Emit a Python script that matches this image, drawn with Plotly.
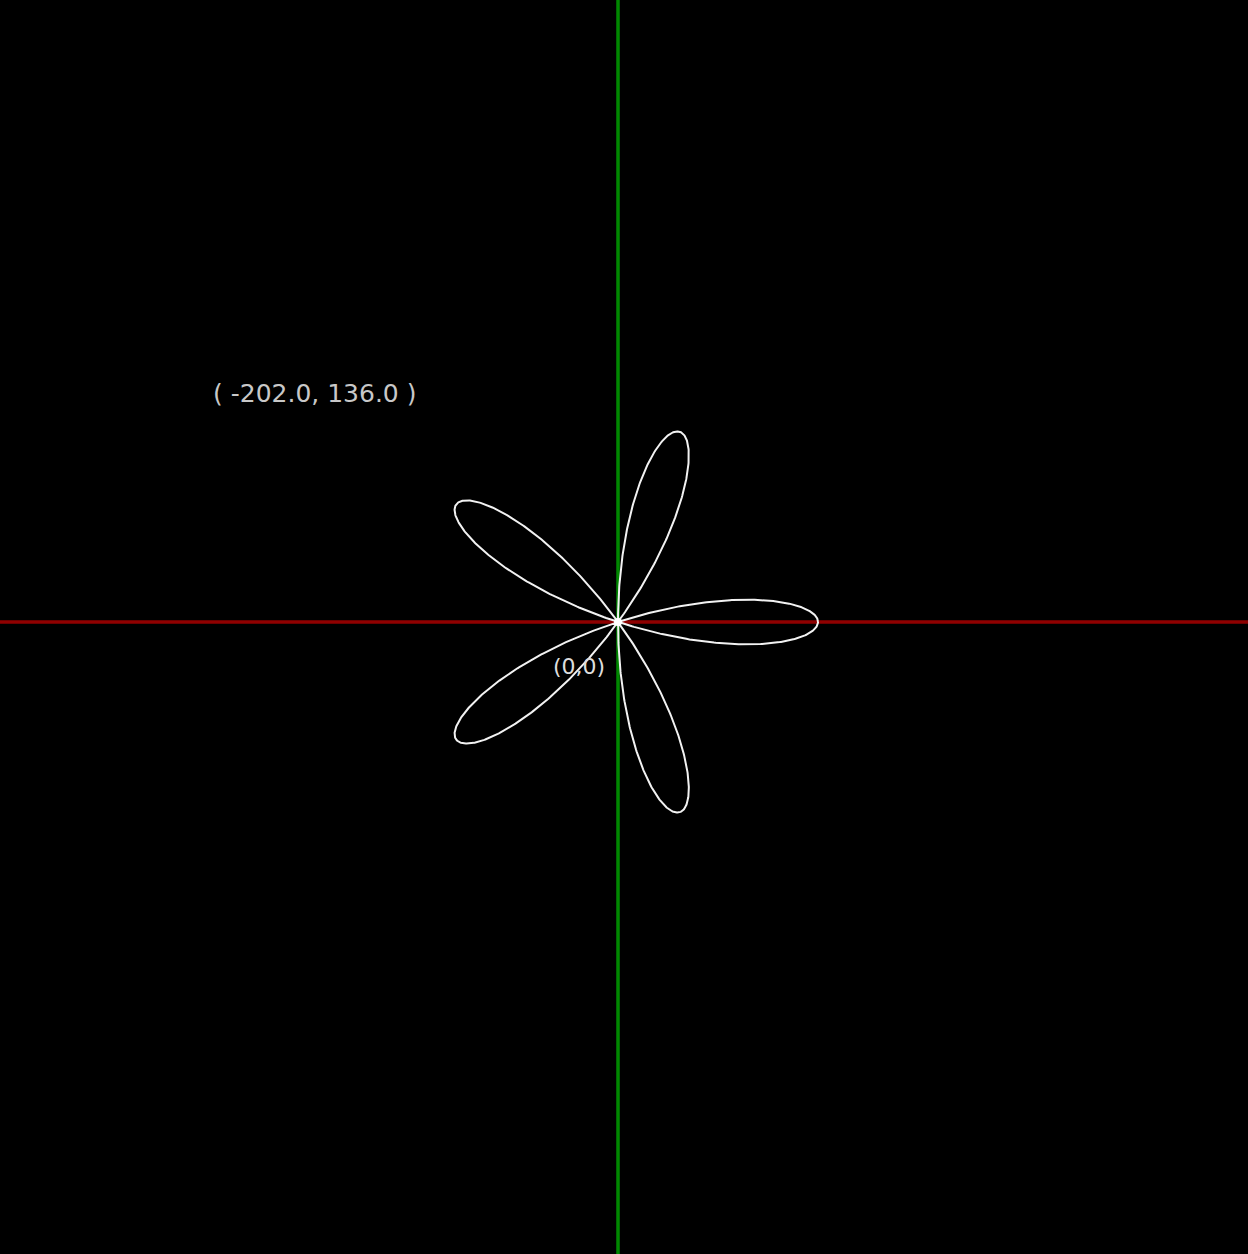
import numpy as np
import plotly.graph_objects as go

# Rose curve parameters: r = A*cos(k*theta)
amplitude = 200.0
petals = 5
cursor_label = "( -202.0, 136.0 )"
cursor_pos = [-304, 229]
origin_label = "(0,0)"
origin_label_pos = [-39, -44]

W, H = 1248, 1254
x_range = [-618, W - 618]
y_range = [622 - H, 622]

theta = np.linspace(0, np.pi, 1501)
r = amplitude * np.cos(petals * theta)
xs = r * np.cos(theta)
ys = r * np.sin(theta)

fig = go.Figure()
# axes lines
fig.add_trace(go.Scatter(x=x_range, y=[0, 0], mode="lines",
                         line=dict(color="#8f0000", width=3.5), hoverinfo="skip"))
fig.add_trace(go.Scatter(x=[0, 0], y=y_range, mode="lines",
                         line=dict(color="#008800", width=3.5), hoverinfo="skip"))
# rose curve
fig.add_trace(go.Scatter(x=xs, y=ys, mode="lines",
                         line=dict(color="#f2f2f2", width=2), hoverinfo="skip"))
# origin dot
fig.add_trace(go.Scatter(x=[0], y=[0], mode="markers",
                         marker=dict(color="white", size=8), hoverinfo="skip"))

fig.add_annotation(x=cursor_pos[0], y=cursor_pos[1], text=cursor_label, showarrow=False,
                   font=dict(family="DejaVu Sans", size=25, color="#c8c8c8"))
fig.add_annotation(x=origin_label_pos[0], y=origin_label_pos[1], text=origin_label, showarrow=False,
                   font=dict(family="DejaVu Sans", size=22, color="#dddddd"))

fig.update_layout(
    width=W, height=H,
    margin=dict(l=0, r=0, t=0, b=0),
    paper_bgcolor="black", plot_bgcolor="black",
    showlegend=False,
    xaxis=dict(range=x_range, visible=False, fixedrange=True),
    yaxis=dict(range=y_range, visible=False, fixedrange=True),
)
fig.write_html(
    "out.html",
    config={"displayModeBar": False},
    post_script="document.body.style.margin='0';document.body.style.background='black';document.body.style.overflow='hidden';",
)
